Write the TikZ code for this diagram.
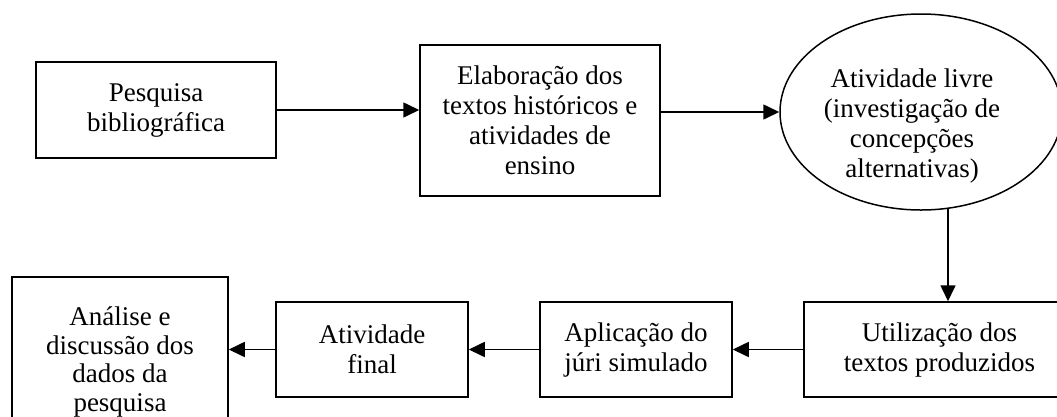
\documentclass[tikz,border=0pt]{standalone}
\usepackage{fontspec}
\setmainfont{Liberation Serif}
\usetikzlibrary{arrows.meta,shapes.geometric}
\begin{document}
\begin{tikzpicture}[x=1pt,y=-1pt,
  every node/.style={font=\fontsize{27}{30}\selectfont, align=center, inner sep=0pt},
  boxnode/.style={draw, line width=1.5pt, rectangle},
  ellnode/.style={draw, line width=1.5pt, ellipse},
  arr/.style={line width=1.6pt, -{Triangle[length=16pt,width=15pt]}}]
\useasboundingbox (0,0) rectangle (1057,416);
\node[boxnode, minimum width=240, minimum height=96] (b1) at (156,110) {Pesquisa\\bibliográfica};
\node[boxnode, minimum width=240, minimum height=151] (b2) at (540,120.5) {Elaboração dos\\textos históricos e\\atividades de\\ensino};
\node[ellnode, minimum width=282, minimum height=196] (ell) at (921,112) {};
\node (ellt) at (912,126) {Atividade livre\\(investigação de\\concepções\\alternativas)};
\node[boxnode, minimum width=271, minimum height=95] (b4) at (939.5,349.5) {Utilização dos\\textos produzidos};
\node[boxnode, minimum width=192, minimum height=95] (b5) at (636,349.5) {Aplicação do\\júri simulado};
\node[boxnode, minimum width=192, minimum height=95] (b6) at (372,349.5) {Atividade\\final};
\node[boxnode, minimum width=216, minimum height=170, font=\fontsize{27}{28.5}\selectfont] (b7) at (120,362) {Análise e\\discussão dos\\dados da\\pesquisa};
\coordinate (v) at (948,0);
\draw[arr] (b1.east) -- (b1.east -| b2.west);
\draw[arr] (b2.east |- ell.west) -- (ell.west);
\draw[arr] ([yshift=3pt]ell.south -| v) -- (b4.north -| v);
\draw[arr] (b4.west |- b5.east) -- (b5.east);
\draw[arr] (b5.west) -- (b6.east);
\draw[arr] (b6.west) -- (b6.west -| b7.east);
\end{tikzpicture}
\end{document}
